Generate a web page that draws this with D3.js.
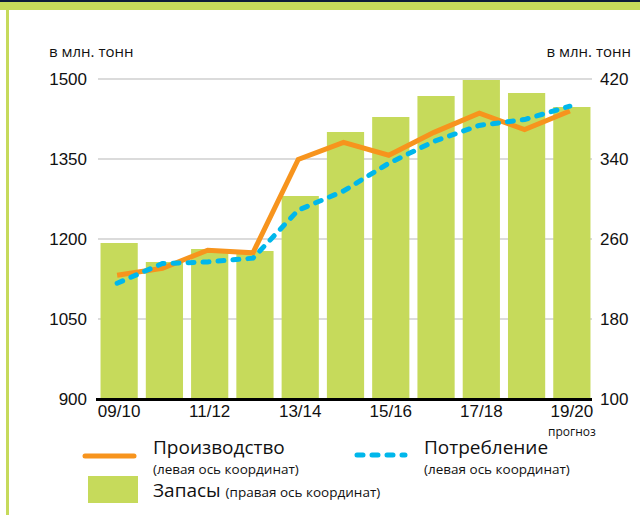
<!DOCTYPE html>
<html>
<head>
<meta charset="utf-8">
<script src="https://cdn.jsdelivr.net/npm/d3@7"></script>
<style>
  body { margin: 0; background: #fff; }
  svg { display: block; font-family: "Open Sans", "Noto Sans", sans-serif; }
</style>
</head>
<body>
<svg id="chart" width="640" height="515"></svg>
<script>
const seasons = ["09/10", "10/11", "11/12", "12/13", "13/14", "14/15", "15/16", "16/17", "17/18", "18/19", "19/20"];
const production = [1132, 1145, 1179, 1174, 1349, 1381, 1357, 1400, 1436, 1405, 1440];
const consumption = [1117, 1154, 1157, 1164, 1254, 1290, 1342, 1383, 1413, 1424, 1449];
const stocks = [256, 237, 250, 248, 303, 367, 382, 403, 419, 406, 392];
const leftTicks = [900, 1050, 1200, 1350, 1500];
const rightTicks = [100, 180, 260, 340, 420];
const tickSeasons = ["09/10", "11/12", "13/14", "15/16", "17/18", "19/20"];

const green = "#c6da5b", orange = "#f7941d", blue = "#00b7eb";

const svg = d3.select("#chart");

// frame
svg.append("rect").attr("x", 0).attr("y", 0).attr("width", 640).attr("height", 2).attr("fill", "#0c1a3a");
svg.append("rect").attr("x", 0).attr("y", 2).attr("width", 640).attr("height", 8).attr("fill", green);
svg.append("rect").attr("x", 6).attr("y", 10).attr("width", 3).attr("height", 505).attr("fill", green);

const x = d3.scaleBand()
    .domain(seasons)
    .range([96, 595])
    .paddingInner(0.178)
    .paddingOuter(0.1);

const yL = d3.scaleLinear().domain([900, 1500]).range([399, 79]);
const yR = d3.scaleLinear().domain([100, 420]).range([399, 79]);

// grid
svg.append("g")
    .selectAll("line")
    .data(leftTicks.slice(1))
    .enter().append("line")
    .attr("x1", 98).attr("x2", 592)
    .attr("y1", d => yL(d)).attr("y2", d => yL(d))
    .attr("stroke", "#cfcfcf")
    .attr("stroke-width", 1.5);

// left axis
const leftAxis = svg.append("g")
    .attr("transform", "translate(96,0)")
    .call(d3.axisLeft(yL).tickValues(leftTicks).tickSize(0).tickPadding(9).tickFormat(d3.format("d")));
leftAxis.select(".domain").remove();
leftAxis.selectAll("text").attr("font-size", 17).attr("fill", "#111").attr("font-family", null);

// right axis
const rightAxis = svg.append("g")
    .attr("transform", "translate(592,0)")
    .call(d3.axisRight(yR).tickValues(rightTicks).tickSize(0).tickPadding(8).tickFormat(d3.format("d")));
rightAxis.select(".domain").remove();
rightAxis.selectAll("text").attr("font-size", 17).attr("fill", "#111").attr("font-family", null);

// unit labels
svg.append("text").attr("x", 49).attr("y", 57).attr("font-size", 15).attr("fill", "#111").text("в млн. тонн");
svg.append("text").attr("x", 631).attr("y", 57).attr("text-anchor", "end").attr("font-size", 15).attr("fill", "#111").text("в млн. тонн");

// bars
svg.append("g")
    .selectAll("rect")
    .data(seasons)
    .enter().append("rect")
    .attr("x", d => x(d))
    .attr("width", x.bandwidth())
    .attr("y", (d, i) => yR(stocks[i]))
    .attr("height", (d, i) => yR(100) - yR(stocks[i]))
    .attr("fill", green);

// baseline
svg.append("line")
    .attr("x1", 96).attr("x2", 592)
    .attr("y1", 399.5).attr("y2", 399.5)
    .attr("stroke", "#000")
    .attr("stroke-width", 3);

// x axis labels
const bottomAxis = svg.append("g")
    .attr("transform", "translate(0,401)")
    .call(d3.axisBottom(x).tickValues(tickSeasons).tickSize(0).tickPadding(4));
bottomAxis.select(".domain").remove();
bottomAxis.selectAll("text").attr("font-size", 17).attr("fill", "#111").attr("font-family", null);

svg.append("text")
    .attr("x", x("19/20") + x.bandwidth() / 2)
    .attr("y", 436)
    .attr("text-anchor", "middle")
    .attr("font-size", 12)
    .attr("fill", "#111")
    .text("прогноз");

const cx = d => x(d) + x.bandwidth() / 2 - 2;

const lineProd = d3.line().x((d, i) => cx(seasons[i])).y(d => yL(d));

svg.append("path")
    .datum(production)
    .attr("d", lineProd)
    .attr("fill", "none")
    .attr("stroke", orange)
    .attr("stroke-width", 5);

svg.append("path")
    .datum(consumption)
    .attr("d", lineProd)
    .attr("fill", "none")
    .attr("stroke", blue)
    .attr("stroke-width", 5)
    .attr("stroke-linecap", "round")
    .attr("stroke-dasharray", "6,9");

// legend
const legend = svg.append("g").attr("fill", "#111");

legend.append("line")
    .attr("x1", 85).attr("x2", 134).attr("y1", 456).attr("y2", 456)
    .attr("stroke", orange).attr("stroke-width", 5).attr("stroke-linecap", "round");
legend.append("text").attr("x", 153).attr("y", 454).attr("font-size", 19).text("Производство");
legend.append("text").attr("x", 153).attr("y", 474).attr("font-size", 13.5).text("(левая ось координат)");

legend.append("line")
    .attr("x1", 357).attr("x2", 405).attr("y1", 455).attr("y2", 455)
    .attr("stroke", blue).attr("stroke-width", 5).attr("stroke-linecap", "round")
    .attr("stroke-dasharray", "6,9");
legend.append("text").attr("x", 424).attr("y", 454).attr("font-size", 19).text("Потребление");
legend.append("text").attr("x", 424).attr("y", 474).attr("font-size", 13.5).text("(левая ось координат)");

legend.append("rect")
    .attr("x", 88).attr("y", 476).attr("width", 50).attr("height", 27)
    .attr("fill", green);
const zap = legend.append("text").attr("x", 153).attr("y", 497).attr("font-size", 19);
zap.append("tspan").text("Запасы ");
zap.append("tspan").attr("font-size", 13.5).text("(правая ось координат)");
</script>
</body>
</html>
